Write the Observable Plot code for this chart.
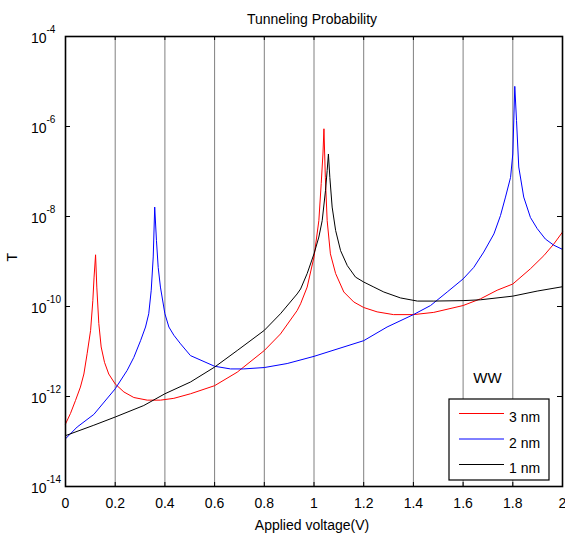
<!DOCTYPE html>
<html><head><meta charset="utf-8">
<script src="https://cdn.jsdelivr.net/npm/d3@7"></script>
<script src="https://cdn.jsdelivr.net/npm/@observablehq/plot@0.6"></script>
<style>html,body{margin:0;padding:0;background:#fff;}</style>
</head><body><div id="chart"></div>
<script>
// ---- data ----
const v3nm = [0,0.02,0.04,0.06,0.074,0.087,0.101,0.11,0.115,0.121,0.126,0.134,0.1435,0.157,0.174,0.2,0.235,0.275,0.329,0.382,0.436,0.503,0.6,0.691,0.8,0.865,0.932,0.946,0.9725,1.0,1.0195,1.029,1.036,1.040,1.0456,1.053,1.066,1.087,1.12,1.16,1.2,1.254,1.32,1.4,1.482,1.6,1.67,1.737,1.8,1.871,1.925,1.965,2.0];
const t3nm = [2.45e-13,4.2e-13,8.1e-13,1.62e-12,3.16e-12,8.9e-12,2.95e-11,1.35e-10,4.5e-10,1.41e-9,2.7e-10,4.2e-11,1.26e-11,5.75e-12,3.16e-12,1.9e-12,1.26e-12,9.5e-13,8.3e-13,8.3e-13,9.1e-13,1.15e-12,1.74e-12,3.47e-12,1.05e-11,2.45e-11,8.1e-11,1.15e-10,2.7e-10,1.26e-9,8.1e-9,5.4e-8,2.45e-7,8.9e-7,7.4e-8,8.1e-9,1.48e-9,5.4e-10,2.1e-10,1.26e-10,9.5e-11,7.6e-11,6.6e-11,6.6e-11,7.4e-11,1.05e-10,1.48e-10,2.3e-10,3.16e-10,6.9e-10,1.35e-9,2.45e-9,4.5e-9];

const v2nm = [0,0.047,0.114,0.2,0.248,0.275,0.302,0.322,0.335,0.345,0.353,0.359,0.366,0.373,0.382,0.4,0.416,0.436,0.463,0.503,0.6,0.664,0.716,0.8,0.892,1.0,1.2,1.294,1.4,1.469,1.536,1.6,1.643,1.683,1.724,1.7505,1.7706,1.791,1.8,1.808,1.815,1.824,1.844,1.871,1.898,1.931,1.965,2.0];
const t2nm = [1.15e-13,2.1e-13,4.0e-13,1.48e-12,3.8e-12,7.4e-12,1.74e-11,3.5e-11,6.9e-11,2.3e-10,1.26e-9,1.62e-8,2.95e-9,7.4e-10,2.7e-10,6.9e-11,3.5e-11,2.3e-11,1.48e-11,8.1e-12,4.7e-12,4.1e-12,4.1e-12,4.4e-12,5.4e-12,7.8e-12,1.74e-11,3.5e-11,6.6e-11,1.05e-10,2.1e-10,4.1e-10,7.4e-10,1.62e-9,4.1e-9,1.05e-8,2.7e-8,7.4e-8,2.45e-7,7.8e-6,1.35e-6,1.26e-7,2.7e-8,9.5e-9,5.4e-9,3.16e-9,2.3e-9,1.86e-9];

const v1nm = [0,0.114,0.2,0.315,0.4,0.503,0.6,0.691,0.8,0.865,0.932,0.946,0.9725,1.0,1.0195,1.033,1.0463,1.053,1.058,1.0637,1.073,1.087,1.107,1.134,1.167,1.2,1.241,1.281,1.348,1.416,1.482,1.6,1.67,1.8,1.898,2.0];
const t1nm = [1.35e-13,2.3e-13,3.5e-13,6.3e-13,1.15e-12,2.1e-12,4.5e-12,1.05e-11,2.95e-11,6.9e-11,1.9e-10,2.45e-10,5.4e-10,1.48e-9,3.5e-9,8.1e-9,3.8e-8,1.05e-7,2.45e-7,7.4e-8,1.62e-8,4.9e-9,1.74e-9,8.1e-10,4.5e-10,3.5e-10,2.7e-10,2.1e-10,1.55e-10,1.32e-10,1.32e-10,1.35e-10,1.41e-10,1.7e-10,2.2e-10,2.75e-10];

const xTicks = [0,0.2,0.4,0.6,0.8,1.0,1.2,1.4,1.6,1.8,2.0];
const gridX = [0.2,0.4,0.6,0.8,1.0,1.2,1.4,1.6,1.8];
const yTicks = [1e-14,1e-12,1e-10,1e-8,1e-6,1e-4];
const seriesNames = ["3 nm","2 nm","1 nm"];
const seriesColors = ["#ff0000","#0000ff","#000000"];
const legendTitle = "WW";
const titleText = "Tunneling Probability";
const xLabel = "Applied voltage(V)";
const yLabel = "T";

const rows = (vs, ts) => vs.map((v, i) => ({v, t: ts[i]}));
const d3nm = rows(v3nm, t3nm), d2nm = rows(v2nm, t2nm), d1nm = rows(v1nm, t1nm);

const FONT = "'Liberation Sans', Arial, Helvetica, sans-serif";
const W = 565, H = 536, mL = 65, mR = 3, mT = 36, mB = 50;
const pw = W - mL - mR, ph = H - mT - mB;

const plot = Plot.plot({
  width: W, height: H,
  marginLeft: mL, marginRight: mR, marginTop: mT, marginBottom: mB,
  x: {domain: [0, 2], axis: null},
  y: {type: "log", domain: [1e-14, 1e-4], axis: null},
  style: {fontFamily: FONT, fontSize: "14px", background: "white", color: "black", overflow: "visible"},
  marks: [
    Plot.ruleX(gridX, {x: d => d, stroke: "#808080", strokeWidth: 1}),
    Plot.line(d3nm, {x: "v", y: "t", stroke: seriesColors[0], strokeWidth: 1}),
    Plot.line(d2nm, {x: "v", y: "t", stroke: seriesColors[1], strokeWidth: 1}),
    Plot.line(d1nm, {x: "v", y: "t", stroke: seriesColors[2], strokeWidth: 1}),
    // inward ticks
    Plot.ruleX(xTicks, {x: d => d, stroke: "black", insetTop: ph - 4}),
    Plot.ruleX(xTicks, {x: d => d, stroke: "black", insetBottom: ph - 4}),
    Plot.ruleY(yTicks, {y: d => d, stroke: "black", insetRight: pw - 5}),
    Plot.ruleY(yTicks, {y: d => d, stroke: "black", insetLeft: pw - 5}),
    Plot.frame({stroke: "black", strokeWidth: 1.6}),
    // x tick labels
    Plot.text(xTicks, {x: d => d, frameAnchor: "bottom", text: d => String(+d.toFixed(1)), lineAnchor: "bottom", dy: 21.5, fontSize: 14}),
    // y tick labels 10^n
    Plot.text(yTicks, {y: d => d, frameAnchor: "left", text: () => "10", textAnchor: "end", lineAnchor: "bottom", dx: -19, dy: 6.5, fontSize: 14}),
    Plot.text(yTicks, {y: d => d, frameAnchor: "left", text: d => String(Math.round(Math.log10(d))), textAnchor: "start", lineAnchor: "bottom", dx: -19, dy: -3.5, fontSize: 10}),
    // title and axis labels
    Plot.text([titleText], {frameAnchor: "top", text: d => d, lineAnchor: "bottom", dy: -13, dx: -2, fontSize: 14}),
    Plot.text([xLabel], {frameAnchor: "bottom", text: d => d, lineAnchor: "bottom", dy: 43, dx: -2, fontSize: 14}),
    Plot.text([yLabel], {frameAnchor: "left", text: d => d, rotate: -90, dx: -53, fontSize: 14})
  ]
});
document.getElementById("chart").appendChild(plot);

// legend (inside the axes, bottom-right)
const svg = d3.select(plot);
const bx1 = W - mR - 13, bx0 = bx1 - 100, by1 = H - mB - 6, by0 = by1 - 81;
const lg = svg.append("g").attr("font-family", FONT).attr("font-size", 14);
lg.append("text").attr("x", bx0 + 38.5).attr("y", by0 - 16).attr("text-anchor", "middle").attr("font-size", 15).attr("fill", "black").text(legendTitle);
lg.append("rect").attr("x", bx0).attr("y", by0).attr("width", bx1 - bx0).attr("height", by1 - by0)
  .attr("fill", "white").attr("stroke", "black").attr("stroke-width", 1.2);
seriesNames.forEach((name, i) => {
  const yy = by0 + 14.5 + i * 25.5;
  lg.append("line").attr("x1", bx0 + 10).attr("x2", bx0 + 55).attr("y1", yy).attr("y2", yy)
    .attr("stroke", seriesColors[i]).attr("stroke-width", 1);
  lg.append("text").attr("x", bx0 + 60).attr("y", yy + 8.5).attr("text-anchor", "start").attr("fill", "black").text(name);
});
</script></body></html>
